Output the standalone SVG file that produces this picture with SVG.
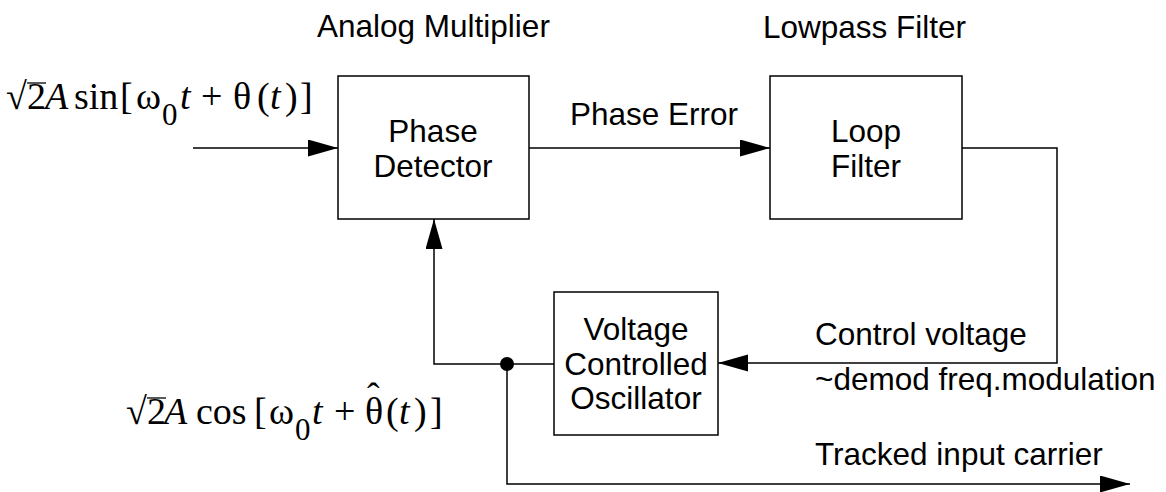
<svg xmlns="http://www.w3.org/2000/svg" width="1166" height="492" viewBox="0 0 1166 492">
<style>
.box{fill:#fff;stroke:#000;stroke-width:1.5}
.ln{fill:none;stroke:#000;stroke-width:1.5}
.bar{stroke:#000;stroke-width:1.3}
.lbl{font-family:"Liberation Sans",Arial,sans-serif;font-size:31.5px;fill:#000}
.ctr{text-anchor:middle}
.math{font-family:"Liberation Serif","Times New Roman",serif;font-size:38px;fill:#000}
.it{font-style:italic}
.sub{font-size:31px}
</style>
<defs>
<marker id="arr" markerUnits="userSpaceOnUse" markerWidth="30" markerHeight="18" refX="30" refY="8.5" orient="auto">
<path d="M0,0 L30,8.5 L0,17 z" fill="#000"/>
</marker>
</defs>
<rect width="1166" height="492" fill="#fff"/>
<g id="connectors">
<path class="ln" d="M193,148 H338" marker-end="url(#arr)"/>
<path class="ln" d="M529,148 H770" marker-end="url(#arr)"/>
<path class="ln" d="M962,148 H1057 V363 H718" marker-end="url(#arr)"/>
<path class="ln" d="M554,364 H434 V219" marker-end="url(#arr)"/>
<path class="ln" d="M507,364 V484 H1130" marker-end="url(#arr)"/>
<circle cx="507" cy="364" r="7" fill="#000"/>
</g>
<g id="phase-detector">
<rect class="box" x="338" y="76" width="191" height="143"/>
<text class="lbl ctr" x="433" y="142">Phase</text>
<text class="lbl ctr" x="433" y="177">Detector</text>
</g>
<g id="loop-filter">
<rect class="box" x="770" y="76" width="192" height="143"/>
<text class="lbl ctr" x="866" y="142">Loop</text>
<text class="lbl ctr" x="866" y="177">Filter</text>
</g>
<g id="vco">
<rect class="box" x="554" y="292" width="164" height="143"/>
<text class="lbl ctr" x="636" y="340">Voltage</text>
<text class="lbl ctr" x="636" y="375">Controlled</text>
<text class="lbl ctr" x="636" y="409">Oscillator</text>
</g>
<g id="labels">
<text class="lbl" x="317" y="37">Analog Multiplier</text>
<text class="lbl" x="763" y="38">Lowpass Filter</text>
<text class="lbl" x="570" y="125">Phase Error</text>
<text class="lbl" x="815" y="345">Control voltage</text>
<text class="lbl" x="815" y="390">~demod freq.modulation</text>
<text class="lbl" x="815" y="465">Tracked input carrier</text>
</g>
<g id="input-formula">
<text class="math" y="109"><tspan x="6">√</tspan><tspan x="27">2</tspan><tspan x="45" class="it">A</tspan><tspan x="74">sin</tspan><tspan x="120">[</tspan><tspan x="136">ω</tspan><tspan x="162" y="125" class="sub">0</tspan><tspan x="180" y="109" class="it">t</tspan><tspan x="201">+</tspan><tspan x="233">θ</tspan><tspan x="257">(</tspan><tspan x="270" class="it">t</tspan><tspan x="285">)</tspan><tspan x="300">]</tspan></text>
<line class="bar" x1="27" y1="83" x2="46" y2="83"/>
</g>
<g id="vco-formula">
<text class="math" y="424"><tspan x="126">√</tspan><tspan x="147">2</tspan><tspan x="164" class="it">A</tspan><tspan x="196">cos</tspan><tspan x="254">[</tspan><tspan x="269">ω</tspan><tspan x="295" y="440" class="sub">0</tspan><tspan x="312" y="424" class="it">t</tspan><tspan x="334">+</tspan><tspan x="365">θ</tspan><tspan x="386">(</tspan><tspan x="399" class="it">t</tspan><tspan x="414">)</tspan><tspan x="430">]</tspan></text>
<text class="math" x="367" y="409">ˆ</text>
<line class="bar" x1="147" y1="398" x2="166" y2="398"/>
</g>
</svg>
